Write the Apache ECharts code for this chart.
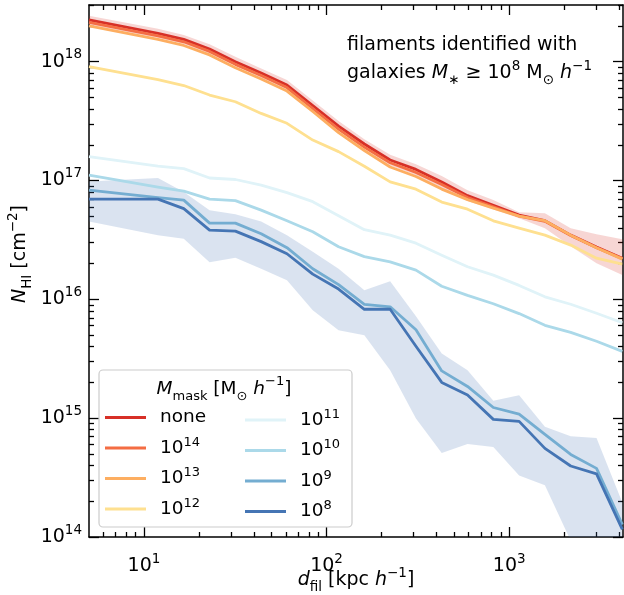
<!DOCTYPE html>
<html>
<head>
<meta charset="utf-8">
<script src="https://cdn.jsdelivr.net/npm/echarts@6/dist/echarts.min.js"></script>
<style>
  html, body { margin: 0; padding: 0; background: #fff; }
  #chart { width: 624px; height: 595px; }
</style>
</head>
<body>
<div id="chart"></div>
<script>
// Distance from the filament spine [kpc/h], log-spaced bins
const dFil = [5, 11.93, 16.52, 22.87, 31.66, 43.83, 60.68, 84.0, 116.3, 161.0,
              222.9, 308.6, 427.2, 591.4, 818.8, 1133.5, 1569, 2172, 3008, 4164];

// Median HI column density [cm^-2] for each halo-mask threshold
const nhiNone = [2.25e18, 1.73e18, 1.54e18, 1.28e18, 1.0e18, 8.03e17, 6.36e17, 4.28e17, 2.87e17, 2.03e17,
                 1.49e17, 1.24e17, 9.7e16, 7.46e16, 6.2e16, 5.11e16, 4.59e16, 3.47e16, 2.75e16, 2.22e16];
const nhi1e14 = [2.14e18, 1.65e18, 1.47e18, 1.22e18, 9.5e17, 7.65e17, 6.06e17, 4.04e17, 2.71e17, 1.91e17,
                 1.41e17, 1.17e17, 9.25e16, 7.18e16, 6.02e16, 5.01e16, 4.54e16, 3.44e16, 2.72e16, 2.2e16];
const nhi1e13 = [2.0e18, 1.54e18, 1.37e18, 1.14e18, 8.9e17, 7.15e17, 5.66e17, 3.81e17, 2.53e17, 1.79e17,
                 1.30e17, 1.08e17, 8.47e16, 6.9e16, 5.85e16, 5.01e16, 4.59e16, 3.47e16, 2.72e16, 2.18e16];
const nhi1e12 = [9.08e17, 7.08e17, 6.3e17, 5.24e17, 4.6e17, 3.67e17, 3.03e17, 2.19e17, 1.75e17, 1.32e17,
                 9.75e16, 8.46e16, 6.58e16, 5.74e16, 4.58e16, 3.97e16, 3.47e16, 2.86e16, 2.22e16, 1.98e16];
const nhi1e11 = [1.59e17, 1.32e17, 1.26e17, 1.05e17, 1.02e17, 9.15e16, 7.91e16, 6.64e16, 5.06e16, 3.86e16,
                 3.47e16, 2.97e16, 2.35e16, 1.88e16, 1.6e16, 1.31e16, 1.05e16, 9.09e15, 7.64e15, 6.35e15];
const nhi1e10 = [1.11e17, 8.79e16, 8.14e16, 6.97e16, 6.77e16, 5.63e16, 4.59e16, 3.71e16, 2.77e16, 2.29e16,
                 2.07e16, 1.76e16, 1.29e16, 1.08e16, 9.18e15, 7.59e15, 6.05e15, 5.28e15, 4.44e15, 3.65e15];
const nhi1e9  = [8.3e16, 7.18e16, 6.84e16, 4.38e16, 4.38e16, 3.57e16, 2.72e16, 1.81e16, 1.33e16, 9.09e15,
                 8.66e15, 5.54e15, 2.5e15, 1.85e15, 1.23e15, 1.08e15, 7.3e14, 4.95e14, 3.78e14, 1.27e14];
const nhi1e8  = [6.97e16, 6.97e16, 5.8e16, 3.82e16, 3.75e16, 3.06e16, 2.42e16, 1.63e16, 1.22e16, 8.25e15,
                 8.25e15, 4.03e15, 2.0e15, 1.57e15, 9.77e14, 9.4e14, 5.57e14, 3.96e14, 3.4e14, 1.16e14];

// Scatter envelopes (16th / 84th percentiles) for the unmasked and 1e8 cases
const noneHi = [2.43e18, 1.89e18, 1.68e18, 1.40e18, 1.10e18, 8.76e17, 7.01e17, 4.71e17, 3.17e17, 2.23e17,
                1.65e17, 1.37e17, 1.09e17, 8.3e16, 6.84e16, 5.42e16, 5.31e16, 3.97e16, 3.53e16, 3.21e16];
const noneLo = [2.04e18, 1.58e18, 1.41e18, 1.16e18, 9.2e17, 7.29e17, 5.78e17, 3.88e17, 2.61e17, 1.84e17,
                1.34e17, 1.11e17, 8.63e16, 6.71e16, 5.74e16, 4.82e16, 3.97e16, 2.80e16, 2.01e16, 1.6e16];
const m8Hi = [9.79e16, 1.05e17, 7.99e16, 5.63e16, 5.21e16, 4.51e16, 3.47e16, 2.52e16, 1.81e16, 1.19e16,
              1.42e16, 7.2e15, 3.51e15, 2.53e15, 1.4e15, 1.56e15, 8.45e14, 7.03e14, 6.82e14, 1.95e14];
const m8Lo = [4.51e16, 3.47e16, 3.24e16, 2.05e16, 2.24e16, 1.81e16, 1.45e16, 8.09e15, 5.49e15, 4.98e15,
              2.53e15, 9.96e14, 5.1e14, 6.07e14, 5.73e14, 3.3e14, 2.72e14, 9.3e13, 3e13, 1e13];

// Series names (mask thresholds) and colours
const maskNames = ['none', '10^14', '10^13', '10^12', '10^11', '10^10', '10^9', '10^8'];
const maskColors = ['#d73027', '#f46d43', '#fdae61', '#fee090', '#e0f3f8', '#abd9e9', '#74add1', '#4575b4'];
const maskValues = [nhiNone, nhi1e14, nhi1e13, nhi1e12, nhi1e11, nhi1e10, nhi1e9, nhi1e8];

// Axis tick positions
const xMajor = [10, 100, 1000];
const xMinor = [6, 7, 8, 9, 20, 30, 40, 50, 60, 70, 80, 90, 200, 300, 400, 500, 600, 700, 800, 900, 2000, 3000, 4000];
const yMajor = [1e14, 1e15, 1e16, 1e17, 1e18];
const yMinor = [];
[14, 15, 16, 17, 18].forEach(function (e) {
  for (let m = 2; m <= 9; m++) yMinor.push(m * Math.pow(10, e));
});

const FONT = 'DejaVu Sans';
const INK = '#000';

function mathRich(size, supSize) {
  return {
    b:  { fontFamily: FONT, fontSize: size, color: INK, lineHeight: size + 9 },
    i:  { fontFamily: FONT, fontSize: size, color: INK, fontStyle: 'italic', lineHeight: size + 9 },
    s:  { fontFamily: FONT, fontSize: supSize, color: INK, lineHeight: supSize, verticalAlign: 'top' },
    sb: { fontFamily: FONT, fontSize: supSize, color: INK, lineHeight: size - 1, verticalAlign: 'bottom' }
  };
}

function powLabel(v) {
  return '{b|10}{s|' + Math.round(Math.log10(v)) + '}';
}
function maskLabel(name) {
  if (name.indexOf('^') < 0) return '{b|' + name + '}';
  const p = name.split('^');
  return '{b|' + p[0] + '}{s|' + p[1] + '}';
}

const X_MIN = 5, X_MAX = 4200, Y_MIN = 1e14, Y_MAX = 3e18;

function xAxisDef(position, ticks, len, withLabels, withLine) {
  const ax = {
    type: 'log', logBase: 10, min: X_MIN, max: X_MAX, position: position, gridIndex: 0,
    axisLine: { show: withLine, lineStyle: { color: INK, width: 1.5 } },
    axisTick: { show: true, inside: true, length: len, customValues: ticks, lineStyle: { color: INK, width: 1.3 } },
    axisLabel: { show: withLabels },
    splitLine: { show: false }, minorTick: { show: false }, minorSplitLine: { show: false }
  };
  if (withLabels) {
    ax.axisLabel = { show: true, customValues: ticks, formatter: powLabel, margin: 15, rich: mathRich(19, 13.5) };
    ax.name = '{i|d}{sb|fil}{b| [kpc }{i|h}{s|\u22121}{b|]}';
    ax.nameLocation = 'middle';
    ax.nameGap = 29;
    ax.nameMoveOverlap = false;
    ax.nameTextStyle = { rich: mathRich(19, 13.5) };
  }
  return ax;
}
function yAxisDef(position, ticks, len, withLabels, withLine) {
  const ax = {
    type: 'log', logBase: 10, min: Y_MIN, max: Y_MAX, position: position, gridIndex: 0,
    axisLine: { show: withLine, lineStyle: { color: INK, width: 1.5 } },
    axisTick: { show: true, inside: true, length: len, customValues: ticks, lineStyle: { color: INK, width: 1.3 } },
    axisLabel: { show: withLabels },
    splitLine: { show: false }, minorTick: { show: false }, minorSplitLine: { show: false }
  };
  if (withLabels) {
    ax.axisLabel = { show: true, customValues: ticks, formatter: powLabel, margin: 7, rich: mathRich(19, 13.5) };
  }
  return ax;
}

function bandSeries(name, hi, lo, color) {
  return {
    type: 'custom', name: name, silent: true, clip: true, z: 1,
    xAxisIndex: 0, yAxisIndex: 0,
    data: [[dFil[0], hi[0]]],
    renderItem: function (params, api) {
      const pts = [];
      for (let i = 0; i < dFil.length; i++) pts.push(api.coord([dFil[i], hi[i]]));
      for (let i = dFil.length - 1; i >= 0; i--) pts.push(api.coord([dFil[i], lo[i]]));
      return { type: 'polygon', shape: { points: pts }, style: { fill: color } };
    }
  };
}

const series = [
  bandSeries('none scatter', noneHi, noneLo, 'rgba(215,48,39,0.2)'),
  bandSeries('1e8 scatter', m8Hi, m8Lo, 'rgba(69,117,180,0.2)')
];
maskNames.forEach(function (name, k) {
  series.push({
    type: 'line', name: name, xAxisIndex: 0, yAxisIndex: 0, z: 2,
    symbol: 'none', showSymbol: false, silent: true, animation: false,
    color: maskColors[k],
    itemStyle: { color: maskColors[k] },
    lineStyle: { color: maskColors[k], width: 2.8, join: 'round' },
    data: dFil.map(function (d, i) { return [d, maskValues[k][i]]; })
  });
});

function legendDef(names, left) {
  return {
    data: names, orient: 'vertical', left: left, top: 408, padding: 0,
    itemWidth: 41, itemHeight: 3, itemGap: 9, icon: 'rect', selectedMode: false,
    backgroundColor: 'transparent', borderWidth: 0,
    formatter: maskLabel,
    textStyle: { padding: [0, 0, 0, 9], rich: (function () {
      const r = mathRich(18.5, 13);
      r.b.lineHeight = 24; return r;
    })() }
  };
}

const chart = echarts.init(document.getElementById('chart'), null, { renderer: 'canvas' });
chart.setOption({
  animation: false,
  backgroundColor: '#fff',
  textStyle: { fontFamily: FONT },
  grid: { left: 89, top: 5, width: 534, height: 532, containLabel: false, outerBoundsMode: 'none' },
  xAxis: [
    xAxisDef('bottom', xMajor, 10, true, true),
    xAxisDef('bottom', xMinor, 5, false, false),
    xAxisDef('top', xMajor, 10, false, true),
    xAxisDef('top', xMinor, 5, false, false)
  ],
  yAxis: [
    yAxisDef('left', yMajor, 10, true, true),
    yAxisDef('left', yMinor, 5, false, false),
    yAxisDef('right', yMajor, 10, false, true),
    yAxisDef('right', yMinor, 5, false, false)
  ],
  legend: [
    legendDef(maskNames.slice(0, 4), 105),
    legendDef(maskNames.slice(4), 245)
  ],
  graphic: [
    {
      type: 'rect', z: 3, silent: true,
      shape: { x: 99, y: 370, width: 253, height: 157, r: 4 },
      style: { fill: 'rgba(255,255,255,0.8)', stroke: '#cccccc', lineWidth: 1.2 }
    },
    {
      type: 'text', z: 5, silent: true, x: 224, y: 389,
      style: {
        text: '{i|M}{sb|mask}{b| [M}{sb|\u2299}{b| }{i|h}{s|\u22121}{b|]}',
        align: 'center', verticalAlign: 'middle', rich: mathRich(18.5, 13)
      }
    },
    {
      type: 'text', z: 5, silent: true, x: 347, y: 31,
      style: {
        text: '{b|filaments identified with}\n{b|galaxies }{i|M}{sb|\u2217}{b| \u2265 10}{s|8}{b| M}{sb|\u2299}{b| }{i|h}{s|\u22121}',
        align: 'left', verticalAlign: 'top',
        rich: (function () { const r = mathRich(19, 13.5); r.b.lineHeight = 28; r.i.lineHeight = 28; r.sb.lineHeight = 19; return r; })()
      }
    },
    {
      type: 'text', z: 5, silent: true, x: 20, y: 254, rotation: Math.PI / 2,
      style: {
        text: '{i|N}{sb|HI}{b| [cm}{s|\u22122}{b|]}',
        align: 'center', verticalAlign: 'middle', rich: mathRich(19, 13.5)
      }
    }
  ],
  series: series
});
</script>
</body>
</html>
